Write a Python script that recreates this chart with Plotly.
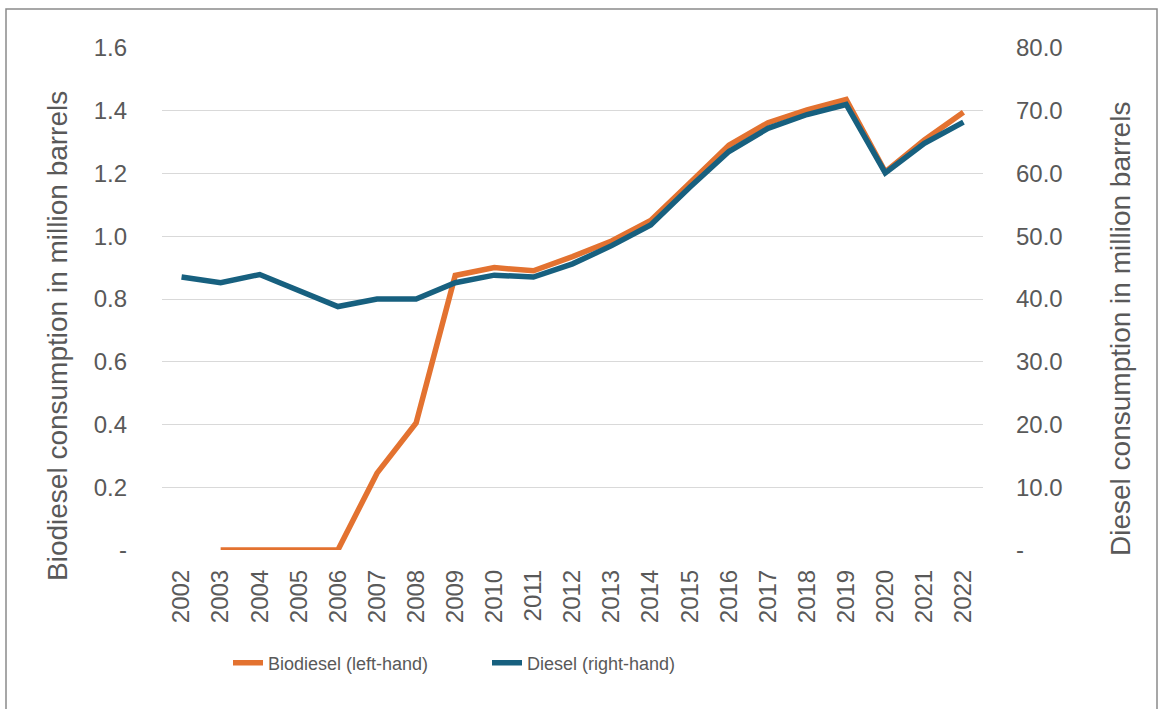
import plotly.graph_objects as go

# Annual consumption, 2002-2022
years = [str(y) for y in range(2002, 2023)]

# Biodiesel, million barrels (left axis); no value for 2002
biodiesel = [None, 0.0, 0.0, 0.0, 0.0, 0.245, 0.405, 0.875, 0.900, 0.890, 0.935,
             0.985, 1.050, 1.170, 1.290, 1.362, 1.403, 1.436, 1.205, 1.307, 1.395]

# Diesel, million barrels (right axis)
diesel = [43.5, 42.6, 43.9, 41.3, 38.8, 40.0, 40.0, 42.6, 43.8, 43.5, 45.6,
          48.5, 51.8, 57.8, 63.5, 67.2, 69.4, 71.0, 60.1, 64.8, 68.2]

left_ticks = [0, 0.2, 0.4, 0.6, 0.8, 1.0, 1.2, 1.4, 1.6]
left_labels = ["-", "0.2", "0.4", "0.6", "0.8", "1.0", "1.2", "1.4", "1.6"]
right_ticks = [0, 10, 20, 30, 40, 50, 60, 70, 80]
right_labels = ["-", "10.0", "20.0", "30.0", "40.0", "50.0", "60.0", "70.0", "80.0"]

ORANGE = "#E37230"
BLUE = "#17607F"
TEXT = "#595959"
GRID = "#D9D9D9"
FONT = "Liberation Sans, Arial, sans-serif"

W, H = 1159, 709
ML, MR, MT, MB = 162, 176, 48, 159


def px_x(px):
    return (px - ML) / (W - ML - MR)


def px_y(py):
    return (H - MB - py) / (H - MT - MB)


fig = go.Figure()
fig.add_trace(go.Scatter(
    x=years, y=biodiesel, name="Biodiesel (left-hand)", mode="lines",
    line=dict(color=ORANGE, width=5.5), yaxis="y"))
fig.add_trace(go.Scatter(
    x=years, y=diesel, name="Diesel (right-hand)", mode="lines",
    line=dict(color=BLUE, width=5.5), yaxis="y2"))

fig.update_layout(
    width=W, height=H,
    margin=dict(l=ML, r=MR, t=MT, b=MB),
    paper_bgcolor="white", plot_bgcolor="white",
    font=dict(family=FONT, color=TEXT, size=24),
    showlegend=True,
    legend=dict(orientation="h", x=px_x(228), xanchor="left",
                y=px_y(663), yanchor="middle",
                font=dict(family=FONT, size=18, color=TEXT),
                entrywidth=214, entrywidthmode="pixels",
                bgcolor="rgba(0,0,0,0)"),
    xaxis=dict(type="category", range=[-0.5, 20.5], tickangle=-90,
               showgrid=False, showline=False, zeroline=False,
               ticks="", ticklabelstandoff=14,
               tickfont=dict(size=24, color=TEXT)),
    yaxis=dict(range=[0, 1.6], tickvals=left_ticks, ticktext=left_labels,
               showgrid=True, gridcolor=GRID, gridwidth=1.2,
               zeroline=False, showline=False, ticks="",
               ticklabelstandoff=34, tickfont=dict(size=24, color=TEXT)),
    yaxis2=dict(range=[0, 80], tickvals=right_ticks, ticktext=right_labels,
                overlaying="y", side="right", showgrid=False,
                zeroline=False, showline=False, ticks="",
                ticklabelstandoff=32, tickfont=dict(size=24, color=TEXT)),
)

# Axis titles
fig.add_annotation(text="Biodiesel consumption in million barrels",
                   xref="paper", yref="paper", x=px_x(58), y=px_y(336),
                   xanchor="center", yanchor="middle",
                   textangle=-90, showarrow=False,
                   font=dict(size=28, color=TEXT, family=FONT))
fig.add_annotation(text="Diesel consumption in million barrels",
                   xref="paper", yref="paper", x=px_x(1120), y=px_y(329),
                   xanchor="center", yanchor="middle",
                   textangle=-90, showarrow=False,
                   font=dict(size=28, color=TEXT, family=FONT))

# Chart frame
fig.add_shape(type="rect", xref="paper", yref="paper",
              x0=px_x(6), x1=px_x(1157), y0=px_y(730), y1=px_y(9),
              line=dict(color="#8A8A8A", width=1.5), fillcolor="rgba(0,0,0,0)",
              layer="below")

fig.write_html("out.html")
